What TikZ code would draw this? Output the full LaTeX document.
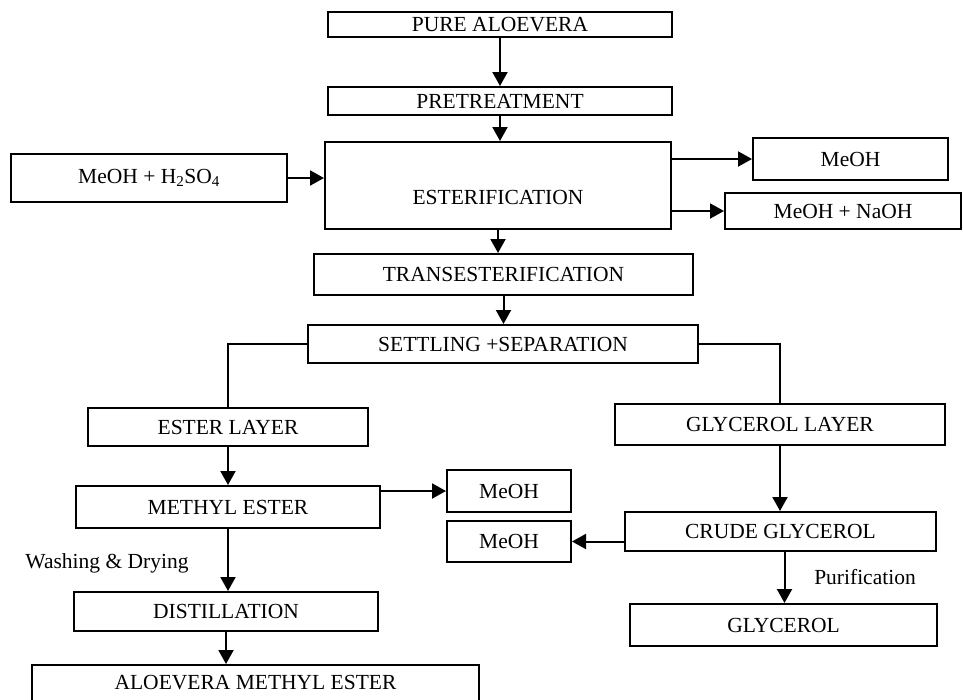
\documentclass[tikz,border=0pt]{standalone}
\usepackage{fontspec}
\setmainfont{Liberation Serif}
\usepackage{tikz}
\usetikzlibrary{arrows.meta}
\usetikzlibrary{calc}

\tikzset{
  procbox/.style={draw, line width=2pt, inner sep=0pt, font=\fontsize{21.5}{24}\selectfont},
  flowarr/.style={line width=2pt, -{Triangle[length=14pt,width=15pt]}},
  flowline/.style={line width=2pt},
  sidetext/.style={font=\fontsize{21.5}{24}\selectfont}
}

\begin{document}
\begin{tikzpicture}[x=1pt,y=-1pt]
            \useasboundingbox (0,0) rectangle (963,699);
            \node[procbox, minimum width=344pt, minimum height=25pt] (pure) at (500,24.5) {PURE ALOEVERA};
            \node[procbox, minimum width=344pt, minimum height=28pt] (pretreat) at (500,101) {PRETREATMENT};
            \node[procbox, minimum width=346pt, minimum height=87pt] (esterif) at (498,185.5) {};
            \node[sidetext] (esteriftext) at (498,197) {ESTERIFICATION};
            \node[procbox, minimum width=276pt, minimum height=48pt] (acid) at (149,178) {MeOH + H\textsubscript{2}SO\textsubscript{4}};
            \node[procbox, minimum width=195pt, minimum height=42pt] (meohtop) at (850.5,159) {MeOH};
            \node[procbox, minimum width=236pt, minimum height=36pt] (naoh) at (843,211) {MeOH + NaOH};
            \node[procbox, minimum width=379pt, minimum height=41pt] (trans) at (503.5,274.5) {TRANSESTERIFICATION};
            \node[procbox, minimum width=390pt, minimum height=38pt] (settle) at (503,344) {SETTLING +SEPARATION};
            \node[procbox, minimum width=280pt, minimum height=38pt] (esterlayer) at (228,427) {ESTER LAYER};
            \node[procbox, minimum width=330pt, minimum height=41pt] (glylayer) at (780,424.5) {GLYCEROL LAYER};
            \node[procbox, minimum width=304pt, minimum height=42pt] (methyl) at (228,507) {METHYL ESTER};
            \node[procbox, minimum width=124pt, minimum height=42pt] (meohmid) at (509,491) {MeOH};
            \node[procbox, minimum width=124pt, minimum height=41pt] (meohlow) at (509,541.5) {MeOH};
            \node[procbox, minimum width=311pt, minimum height=39pt] (crude) at (780.5,531.5) {CRUDE GLYCEROL};
            \node[procbox, minimum width=304pt, minimum height=39pt] (distil) at (226,611.5) {DISTILLATION};
            \node[procbox, minimum width=307pt, minimum height=42pt] (glycerol) at (783.5,625) {GLYCEROL};
            \node[procbox, minimum width=447pt, minimum height=60pt] (aloester) at (255.5,695) {};
            \node[sidetext] (aloestertext) at (255.5,683) {ALOEVERA METHYL ESTER};
            \node[sidetext] (washing) at (107,563) {Washing \& Drying};
            \node[sidetext] (purif) at (865,577) {Purification};
            % main line
            \draw[flowarr] (pure) -- (pretreat);
            \draw[flowarr] (pretreat) -- (pretreat |- esterif.north);
            \draw[flowarr] (acid) -- (acid -| esterif.west);
            \draw[flowarr] (esterif.east |- meohtop) -- (meohtop.west);
            \draw[flowarr] (esterif.east |- naoh) -- (naoh.west);
            \draw[flowarr] (esterif.south) -- (esterif.south |- trans.north);
            \draw[flowarr] (trans) -- (trans |- settle.north);
            % two layers
            \draw[flowline] (settle.west) -| (esterlayer.north);
            \draw[flowline] (settle.east) -| (glylayer.north);
            \draw[flowarr] (esterlayer) -- (methyl);
            \draw[flowarr] (methyl.east |- meohmid) -- (meohmid.west);
            \draw[flowarr] (methyl.south) -- (methyl.south |- distil.north);
            \draw[flowarr] (distil.south) -- (distil.south |- aloester.north);
            \draw[flowarr] (glylayer) -- (glylayer |- crude.north);
            \draw[flowarr] (crude.west |- meohlow) -- (meohlow.east);
            \draw[flowarr] ($(crude.south)+(4,0)$) -- ($(crude.south |- glycerol.north)+(4,0)$);
        \end{tikzpicture}
\end{document}
